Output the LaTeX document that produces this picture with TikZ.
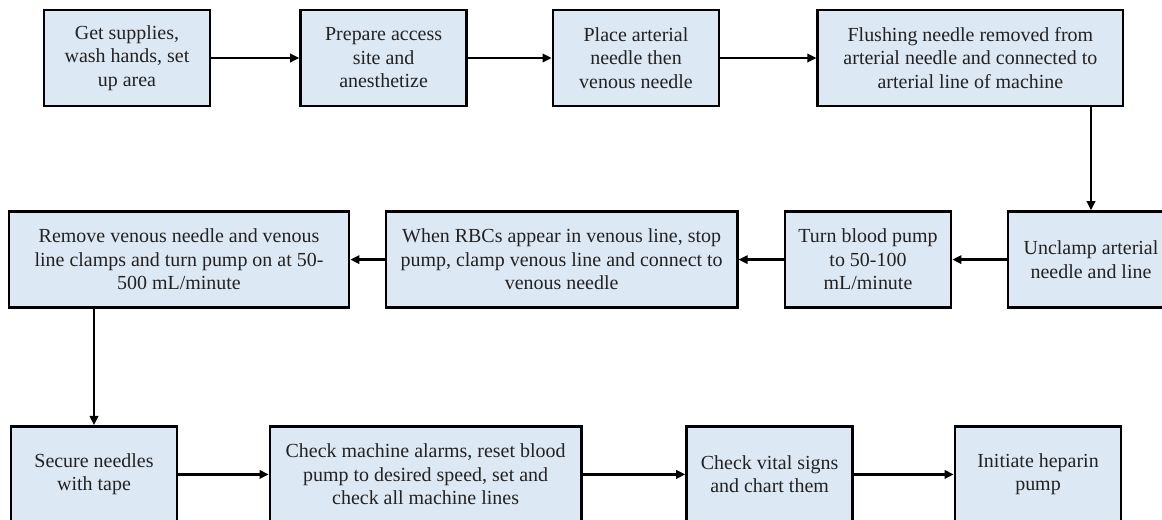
\documentclass[tikz,border=0pt]{standalone}
\usepackage{fontspec}
\setmainfont{Liberation Serif}
\definecolor{stepfill}{RGB}{221,232,245}
\definecolor{steptext}{RGB}{34,34,34}
\usetikzlibrary{arrows.meta,positioning}

\begin{document}
\begin{tikzpicture}[
  stepbox/.style={rectangle, draw=black, line width=1.9pt, fill=stepfill,
                  minimum width=4.15cm, minimum height=2.4cm, inner sep=2pt,
                  font=\fontsize{14.2pt}{16.7pt}\selectfont, align=center, text=steptext},
  flowarr/.style={-{Triangle[length=6.5pt,width=6pt]}, line width=1.8pt}
]
\useasboundingbox (0,0) rectangle (29.05,-12.975);
\clip (0,0) rectangle (29.05,-12.975);

% Top row
\node[stepbox]                     (supp)  at ( 3.175,-1.45) {Get supplies,\\wash hands, set\\up area};
\node[stepbox]                     (site)  at ( 9.59, -1.45) {Prepare access\\site and\\anesthetize};
\node[stepbox]                     (place) at (15.9,  -1.45) {Place arterial\\needle then\\venous needle};
\node[stepbox, minimum width=7.63cm] (flush) at (24.26, -1.45) {Flushing needle removed from\\arterial needle and connected to\\arterial line of machine};

% Middle row, read right to left
\node[stepbox]                     (uncl)  at (27.275,-6.49) {Unclamp arterial\\needle and line};
\node[stepbox]                     (turn)  at (21.7,  -6.49) {Turn blood pump\\to 50-100\\mL/minute};
\node[stepbox, minimum width=8.78cm] (rbc)   at (14.04, -6.49) {When RBCs appear in venous line, stop\\pump, clamp venous line and connect to\\venous needle};
\node[stepbox, minimum width=8.5cm]  (remv)  at ( 4.475,-6.49) {Remove venous needle and venous\\line clamps and turn pump on at 50-\\500 mL/minute};

% Bottom row
\node[stepbox]                     (tape)  at ( 2.35, -11.86) {Secure needles\\with tape};
\node[stepbox, minimum width=7.78cm] (alarm) at (10.64, -11.86) {Check machine alarms, reset blood\\pump to desired speed, set and\\check all machine lines};
\node[stepbox]                     (vital) at (19.24, -11.86) {Check vital signs\\and chart them};
\node[stepbox]                     (hep)   at (25.95, -11.86) {Initiate heparin\\pump};

% Arrows
\draw[flowarr] (supp.east)  -- (site.west);
\draw[flowarr] (site.east)  -- (place.west);
\draw[flowarr] (place.east) -- (flush.west);
\draw[flowarr] (flush.south -| uncl.north) -- (uncl.north);
\draw[flowarr] (uncl.west)  -- (turn.east);
\draw[flowarr] (turn.west)  -- (rbc.east);
\draw[flowarr] (rbc.west)   -- (remv.east);
\draw[flowarr] (remv.south -| tape.north) -- (tape.north);
\draw[flowarr] (tape.east)  -- (alarm.west);
\draw[flowarr] (alarm.east) -- (vital.west);
\draw[flowarr] (vital.east) -- (hep.west);
\end{tikzpicture}
\end{document}
